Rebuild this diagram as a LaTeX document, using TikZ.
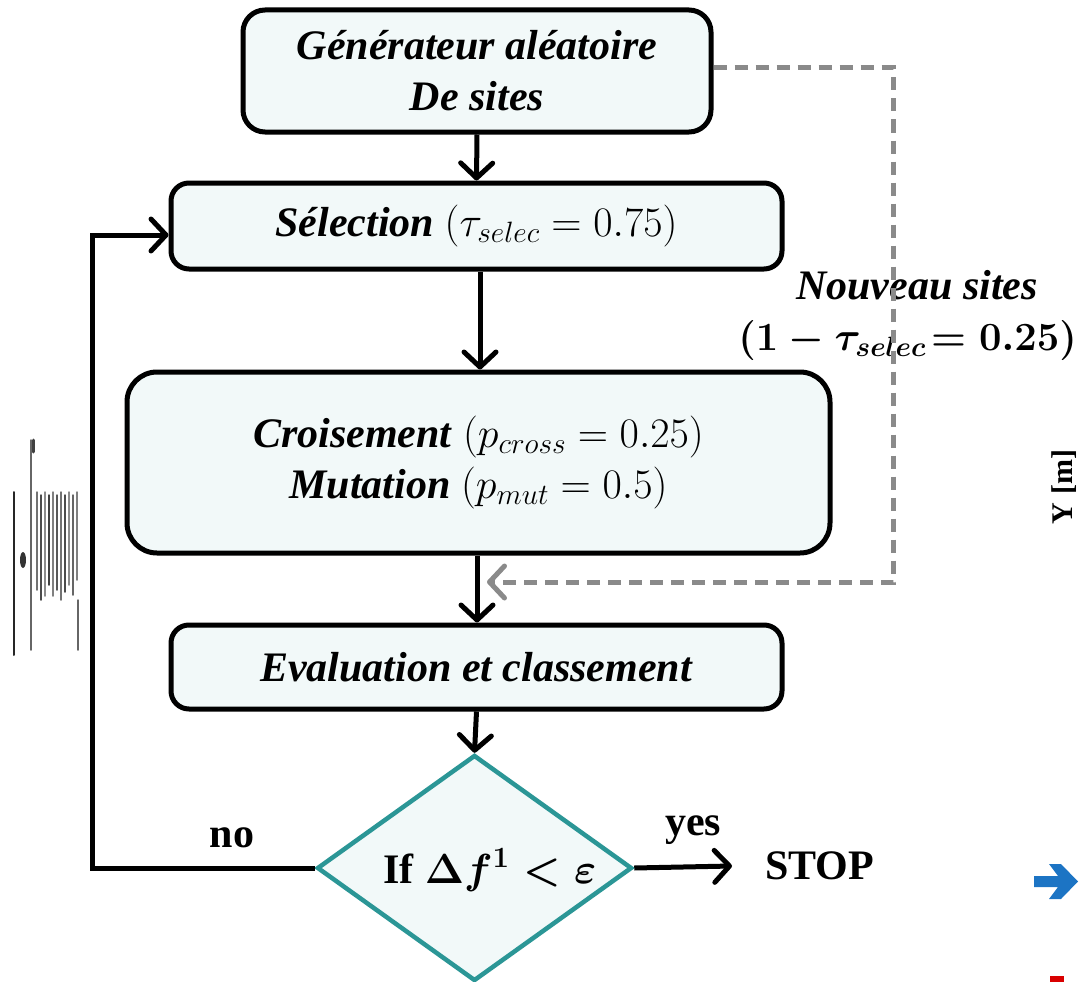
\RequirePackage{fix-cm}
\documentclass[tikz,border=0pt]{standalone}
\usepackage{fontspec}
\setmainfont{Liberation Serif}
\usetikzlibrary{arrows.meta,shapes.geometric}
\definecolor{boxfill}{HTML}{F2F9F9}
\definecolor{tealline}{HTML}{2B9696}
\definecolor{dashgray}{HTML}{8A8A8A}
\definecolor{bluearrow}{HTML}{1C74C4}
\newcommand\myfont{\fontsize{42}{51}\selectfont}
\newcommand\lblfont{\fontsize{42}{50}\selectfont}
\begin{document}
\begin{tikzpicture}[x=1pt,y=-1pt,
  box/.style={draw=black, line width=5pt, fill=boxfill, align=center, inner sep=0pt, font=\myfont},
  conn/.style={line width=5pt, -{Straight Barb[length=15pt,width=32pt,round]}},
  newconn/.style={draw=dashgray, line width=5pt, dash pattern=on 13pt off 8pt, -{Straight Barb[length=15pt,width=32pt,round]}},
  lbl/.style={inner sep=0pt, font=\lblfont}]
\useasboundingbox (0,0) rectangle (1080,982);

% boxes
\node[box, rounded corners=22pt, minimum width=468pt, minimum height=122pt] (b1) at (477,71)
  {\textbf{\textit{Générateur aléatoire}}\\\textbf{\textit{De sites}}};
\node[box, rounded corners=18pt, minimum width=611pt, minimum height=86pt] (b2) at (476.5,226)
  {\textbf{\textit{Sélection}} $(\tau_{selec} = 0.75)$};
\node[box, rounded corners=30pt, minimum width=703pt, minimum height=181pt] (b3) at (478.5,462.5)
  {\textbf{\textit{Croisement}} $(p_{cross} = 0.25)$\\\textbf{\textit{Mutation}} $(p_{mut} = 0.5)$};
\node[box, rounded corners=18pt, minimum width=611pt, minimum height=84pt] (b4) at (476.5,667)
  {\textbf{\textit{Evaluation et classement}}};
\node[diamond, draw=tealline, line width=4.5pt, fill=boxfill, inner sep=0pt,
      minimum width=315pt, minimum height=226pt] (dec) at (474.5,868) {};
\node[lbl] (dectext) at (490,870) {\textbf{If} {\boldmath$\Delta f^{\mathbf{1}} < \varepsilon$}};

% labels
\node[lbl, anchor=west] (stop) at (765,866) {\textbf{STOP}};
\node[lbl] (yes) at (693,830) {\textbf{yes}};
\node[lbl] (no) at (232,838) {\textbf{no}};
\node[lbl, font=\myfont] (nouv) at (917,285) {\textbf{\textit{Nouveau sites}}};
\node[lbl, anchor=east, font=\fontsize{40}{48}\selectfont] (frac) at (1077,340) {{\boldmath$(1 - \tau_{selec}\! = 0.25)$}};

% connectors
\coordinate (nocorner) at (92,868);
\coordinate (dcorner) at (893,582);
\coordinate (newin) at (487,582);
\draw[conn] (b1.south) -- (b2.north);
\draw[conn] (b2.south -| 480,0) -- (b3.north -| 480,0);
\draw[conn] (b3.south -| 477,0) -- (b4.north -| 477,0);
\draw[conn] (b4.south) -- (dec.north);
\draw[conn] (dec.west) -- (nocorner) |- ([yshift=-9pt]b2.west);
\draw[conn] (dec.east) -- ([xshift=-33pt]stop.west);
\draw[newconn] ([yshift=3pt]b1.east) -- ([yshift=3pt]b1.east -| dcorner) -- (dcorner) -- (newin);

% cropped neighbour figure at the right edge
\node[inner sep=0pt, rotate=90, font=\fontsize{30}{30}\selectfont] (ylab) at (1064,487) {\textbf{Y [m]}};
\fill[bluearrow] (1034,876) -- (1058,876) -- (1049,864) -- (1061,864) -- (1078,881.5)
  -- (1061,899) -- (1049,899) -- (1058,887) -- (1034,887) -- cycle;
\fill[red!85!black] (1050,976) rectangle (1064,982);

% scanned artefact at the left edge
\begin{scope}[line cap=round]
\draw[black!85, line width=2pt] (14,492) -- (14,655);
\draw[black!60, line width=1.5pt] (31,440) -- (31,650);
\draw[black!75, line width=3pt] (33,440) -- (33,452);
\foreach \xx/\ya/\yb/\g in {37/492/590/55,41/495/600/70,45/492/596/45,49/495/585/75,53/492/596/50,57/495/590/65,61/492/600/55,65/495/592/70,69/492/585/45,73/495/595/60,77/492/580/50}
  \draw[black!\g, line width=1.5pt] (\xx,\ya) -- (\xx,\yb);
\fill[black!80] (23,560) ellipse (3pt and 8pt);
\draw[black!60, line width=1.5pt] (78,600) -- (78,650);
\end{scope}
\end{tikzpicture}
\end{document}
